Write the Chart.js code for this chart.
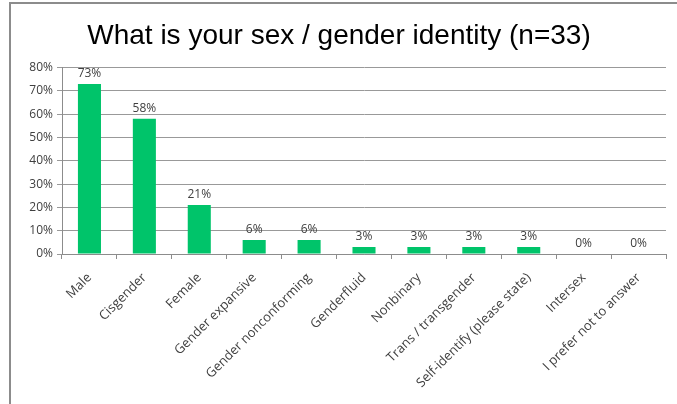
<!DOCTYPE html>
<html>
<head>
<meta charset="utf-8">
<script src="https://cdn.jsdelivr.net/npm/chart.js@4.4.0/dist/chart.umd.min.js"></script>
<style>
  html, body { margin: 0; padding: 0; background: #fff; }
  #wrap { position: relative; width: 677px; height: 404px; }
  #frame { position: absolute; left: 9px; top: 2px; width: 700px; height: 450px;
           border-top: 2px solid #8c8c8c; border-left: 2px solid #8c8c8c; }
  canvas { position: absolute; left: 0; top: 0; }
</style>
</head>
<body>
<div id="wrap">
  <div id="frame"></div>
  <canvas id="chart" width="677" height="404"></canvas>
</div>
<script>
// answers to the gender identity question, percent of respondents
var categories = ["Male", "Cisgender", "Female", "Gender expansive", "Gender nonconforming",
    "Genderfluid", "Nonbinary", "Trans / transgender", "Self-identify (please state)",
    "Intersex", "I prefer not to answer"];
var percents = [73, 58, 21, 6, 6, 3, 3, 3, 3, 0, 0];
var yTicks = [0, 10, 20, 30, 40, 50, 60, 70, 80];

var labelFont = "'Open Sans', 'Liberation Sans', sans-serif";

// percentage written above each bar
var barLabels = {
    id: 'barLabels',
    afterDatasetsDraw: function(chart) {
        var c = chart.ctx;
        var meta = chart.getDatasetMeta(0);
        c.save();
        c.font = "12px " + labelFont;
        c.fillStyle = "#404040";
        c.textAlign = "center";
        c.textBaseline = "bottom";
        meta.data.forEach(function(bar, i) {
            c.fillText(percents[i] + "%", bar.x, bar.y - 4);
        });
        c.restore();
    }
};

var ctx = document.getElementById("chart").getContext('2d');
var mychart = new Chart(ctx, {
    type: 'bar',
    data: {
        labels: categories,
        datasets: [{
            data: percents,
            backgroundColor: '#00c46a',
            borderWidth: 0,
            barPercentage: 0.42,
            categoryPercentage: 1
        }]
    },
    plugins: [barLabels],
    options: {
        responsive: false,
        animation: false,
        layout: { padding: { left: 12, right: 11, top: 19, bottom: 0 } },
        plugins: {
            legend: { display: false },
            tooltip: { enabled: false },
            title: {
                display: true,
                text: "What is your sex / gender identity (n=33)",
                color: '#000',
                font: { family: "Arial, 'Liberation Sans', sans-serif", size: 28, weight: 'normal' },
                padding: { top: 0, bottom: 15 }
            }
        },
        scales: {
            x: {
                afterFit: function(axis) { axis.height = 150; },
                grid: { display: true, drawOnChartArea: false, offset: true, color: '#8c8c8c', tickLength: 5 },
                border: { color: '#8c8c8c' },
                ticks: {
                    color: '#404040',
                    font: { family: labelFont, size: 13 },
                    minRotation: 45,
                    maxRotation: 45,
                    autoSkip: false,
                    padding: 11
                }
            },
            y: {
                min: 0,
                max: 80,
                afterBuildTicks: function(axis) {
                    axis.ticks = yTicks.map(function(v) { return { value: v }; });
                },
                afterFit: function(axis) { axis.width = 50; },
                grid: { color: '#999999', tickLength: 5 },
                border: { color: '#8c8c8c' },
                ticks: {
                    color: '#404040',
                    font: { family: labelFont, size: 12 },
                    padding: 4,
                    callback: function(v) { return v + "%"; }
                }
            }
        }
    }
});
</script>
</body>
</html>
